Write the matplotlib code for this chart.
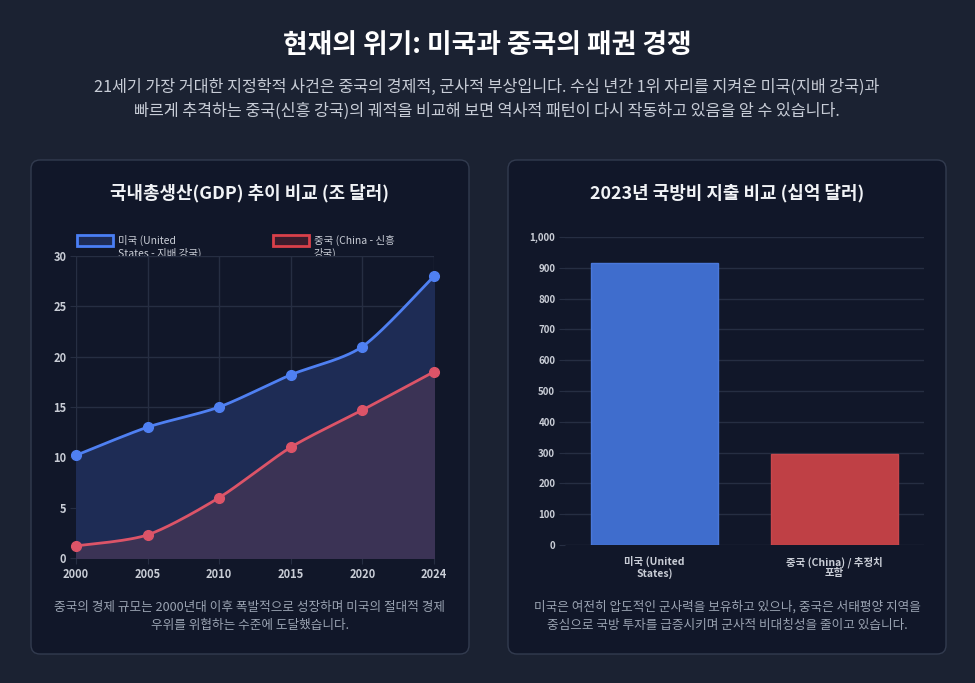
import numpy as np
import matplotlib
matplotlib.use("Agg")
import matplotlib.pyplot as plt
from matplotlib.patches import FancyBboxPatch, Rectangle
from matplotlib.transforms import IdentityTransform, Bbox

plt.rcParams['font.family'] = ['Noto Sans CJK KR', 'DejaVu Sans']

# data
years = ["2000", "2005", "2010", "2015", "2020", "2024"]
gdp_us = [10.2, 13.0, 15.0, 18.2, 21.0, 28.0]
gdp_china = [1.2, 2.3, 6.0, 11.0, 14.7, 18.5]

defense_labels = ["미국 (United\nStates)", "중국 (China) / 추정치\n포함"]
defense_values = [916, 296]

BG = "#1b2232"
CARD = "#111729"
GRID = "#262e42"
TICK = "#c9cdd6"

W, H = 975, 683
fig = plt.figure(figsize=(9.75, 6.83), dpi=100)
fig.patch.set_facecolor(BG)


def px(x, y):
    return x / W, 1 - y / H


def card(x0, y0, x1, y1):
    p = FancyBboxPatch((x0, H - y1), x1 - x0, y1 - y0,
                       boxstyle="round,pad=0,rounding_size=9",
                       transform=IdentityTransform(),
                       facecolor=CARD, edgecolor="#323b4f", linewidth=1,
                       zorder=-10)
    fig.add_artist(p)


card(31, 160, 469, 654)
card(508, 160, 946, 654)

# headings
fig.text(*px(487, 45), "현재의 위기: 미국과 중국의 패권 경쟁", color="white",
         fontsize=19.3, fontweight="bold", ha="center", va="center")
fig.text(*px(487, 87), "21세기 가장 거대한 지정학적 사건은 중국의 경제적, 군사적 부상입니다. 수십 년간 1위 자리를 지켜온 미국(지배 강국)과",
         color="#c7ccd6", fontsize=11.7, ha="center", va="center")
fig.text(*px(487, 111), "빠르게 추격하는 중국(신흥 강국)의 궤적을 비교해 보면 역사적 패턴이 다시 작동하고 있음을 알 수 있습니다.",
         color="#c7ccd6", fontsize=11.7, ha="center", va="center")

fig.text(*px(250, 193), "국내총생산(GDP) 추이 비교 (조 달러)", color="#f1f3f6",
         fontsize=12.9, fontweight="bold", ha="center", va="center")
fig.text(*px(727, 193), "2023년 국방비 지출 비교 (십억 달러)", color="#f1f3f6",
         fontsize=12.9, fontweight="bold", ha="center", va="center")

fig.text(*px(250, 607), "중국의 경제 규모는 2000년대 이후 폭발적으로 성장하며 미국의 절대적 경제",
         color="#9aa3b2", fontsize=9.1, ha="center", va="center")
fig.text(*px(250, 625), "우위를 위협하는 수준에 도달했습니다.",
         color="#9aa3b2", fontsize=9.1, ha="center", va="center")
fig.text(*px(727, 607), "미국은 여전히 압도적인 군사력을 보유하고 있으나, 중국은 서태평양 지역을",
         color="#9aa3b2", fontsize=9.1, ha="center", va="center")
fig.text(*px(727, 625), "중심으로 국방 투자를 급증시키며 군사적 비대칭성을 줄이고 있습니다.",
         color="#9aa3b2", fontsize=9.1, ha="center", va="center")


def smooth(xs, ys, n=30):
    # cubic hermite curve through the points, like a tension spline
    xs = np.asarray(xs, float)
    ys = np.asarray(ys, float)
    px_, py_ = [], []
    for i in range(len(xs) - 1):
        i0, i3 = max(i - 1, 0), min(i + 2, len(xs) - 1)
        t = np.linspace(0, 1, n)
        m1x = 0.4 * (xs[i + 1] - xs[i0])
        m1y = 0.4 * (ys[i + 1] - ys[i0])
        m2x = 0.4 * (xs[i3] - xs[i])
        m2y = 0.4 * (ys[i3] - ys[i])
        h00 = 2 * t**3 - 3 * t**2 + 1
        h10 = t**3 - 2 * t**2 + t
        h01 = -2 * t**3 + 3 * t**2
        h11 = t**3 - t**2
        px_.append(h00 * xs[i] + h10 * m1x + h01 * xs[i + 1] + h11 * m2x)
        py_.append(h00 * ys[i] + h10 * m1y + h01 * ys[i + 1] + h11 * m2y)
    return np.concatenate(px_), np.concatenate(py_)


# GDP line chart
ax1 = fig.add_axes([76 / W, 1 - 558 / H, (434 - 76) / W, (558 - 256) / H])
ax1.set_facecolor(CARD)
x = np.arange(len(years))
blue = "#4f80f2"
red = "#dc5468"
sx, sy = smooth(x, gdp_us)
ax1.fill_between(sx, sy, 0, color="#1e2c55", zorder=1)
ax1.plot(sx, sy, color=blue, lw=2, zorder=3)
cx, cy = smooth(x, gdp_china)
ax1.fill_between(cx, cy, 0, color="#3b3355", zorder=2)
ax1.plot(cx, cy, color=red, lw=2, zorder=3)
ax1.plot(x, gdp_us, "o", color=blue, ms=7, zorder=4, clip_on=False)
ax1.plot(x, gdp_china, "o", color=red, ms=7, zorder=4, clip_on=False)
ax1.set_xlim(0, len(years) - 1)
ax1.set_ylim(0, 30)
ax1.set_yticks(range(0, 31, 5))
ax1.set_xticks(x)
ax1.set_xticklabels(years)
ax1.grid(True, color=GRID, lw=1)
ax1.set_axisbelow(True)
for s in ax1.spines.values():
    s.set_visible(False)
ax1.tick_params(colors=TICK, labelsize=8, length=4, color=GRID, pad=3)
for lab in ax1.get_xticklabels() + ax1.get_yticklabels():
    lab.set_fontweight("bold")

# legend drawn by hand, clipped at the plot top like in the source
clip = Bbox.from_extents(0, H - 256, W, H)
legend = [(77, "#1e2c55", "#4a7ff5", "미국 (United\nStates - 지배 강국)"),
          (273, "#3a1c2c", "#d9404a", "중국 (China - 신흥\n강국)")]
for lx, fc, ec, label in legend:
    fig.add_artist(Rectangle((lx, H - 246), 36, 11, transform=IdentityTransform(),
                             facecolor=fc, edgecolor=ec, lw=2, zorder=5))
    t = fig.text((lx + 41) / W, 1 - 235 / H, label, color="#c9cdd6", fontsize=7.5,
                 ha="left", va="top", linespacing=1.25, zorder=5)
    t.set_clip_box(clip)
    t.set_clip_on(True)

# defense bar chart
ax2 = fig.add_axes([565 / W, 1 - 545 / H, (924 - 565) / W, (545 - 237) / H])
ax2.set_facecolor(CARD)
bx = np.arange(len(defense_values))
ax2.bar(bx, defense_values, width=0.71, color=["#3f6dcd", "#bf4045"],
        edgecolor=["#4a78da", "#c8464b"], lw=1, zorder=2)
ax2.set_xlim(-0.5, 1.5)
ax2.set_ylim(0, 1000)
ax2.set_yticks(range(0, 1001, 100))
ax2.set_yticklabels([f"{v:,}" for v in range(0, 1001, 100)])
ax2.set_xticks(bx)
ax2.set_xticklabels(defense_labels, linespacing=1.1)
ax2.yaxis.grid(True, color=GRID, lw=1)
ax2.set_axisbelow(True)
for s in ax2.spines.values():
    s.set_visible(False)
ax2.tick_params(axis="y", colors=TICK, labelsize=7, length=4, color=GRID, pad=3)
ax2.tick_params(axis="x", colors=TICK, labelsize=7.5, length=0, pad=8)
for lab in ax2.get_xticklabels() + ax2.get_yticklabels():
    lab.set_fontweight("bold")

fig.savefig("out.png", dpi=100, facecolor=BG)
